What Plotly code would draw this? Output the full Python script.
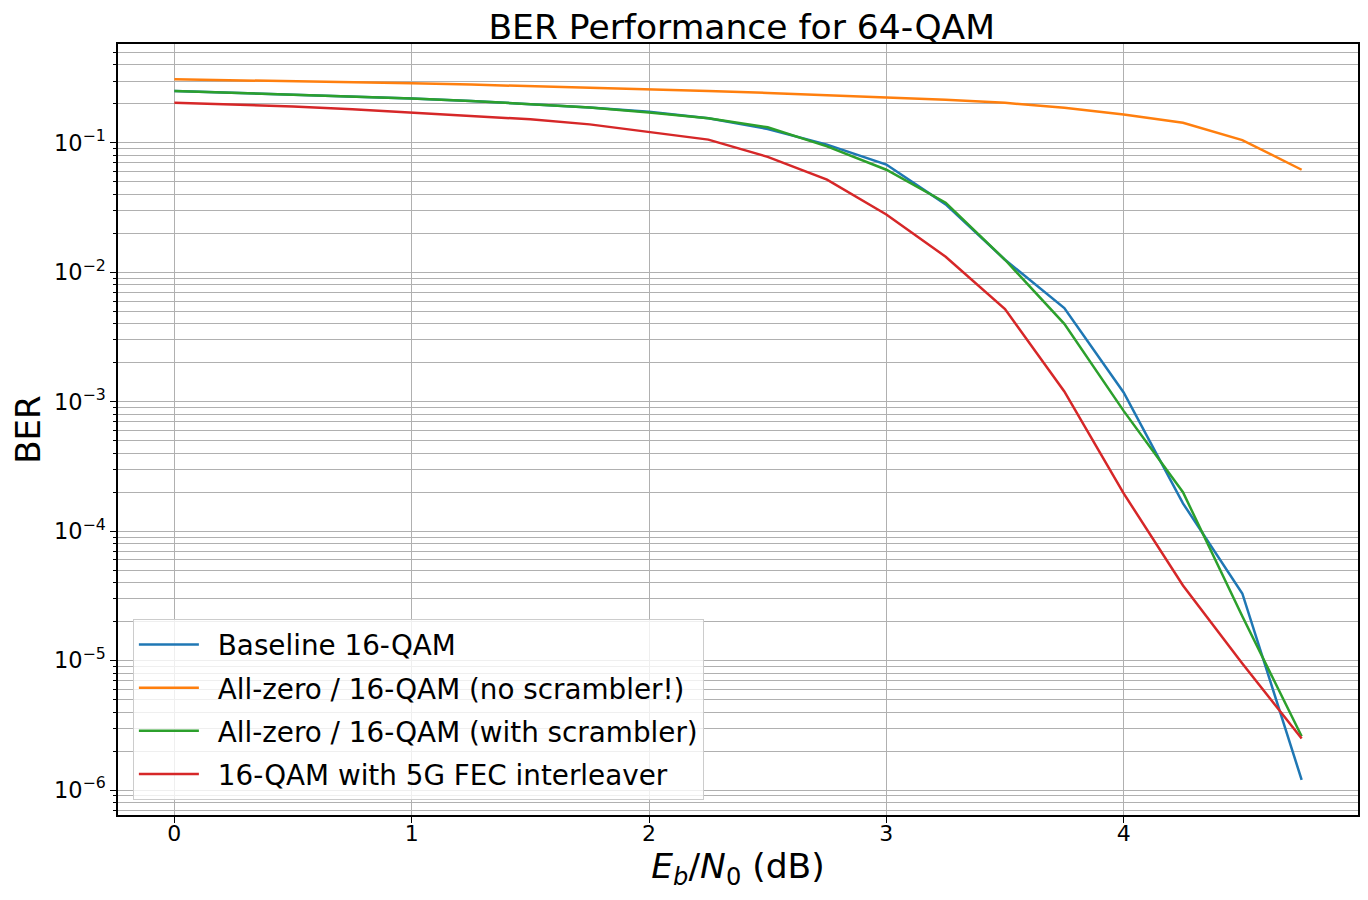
import plotly.graph_objects as go

ebn0 = [0, 0.25, 0.5, 0.75, 1.0, 1.25, 1.5, 1.75, 2.0, 2.25, 2.5, 2.75, 3.0, 3.25, 3.5, 3.75, 4.0, 4.25, 4.5, 4.75]

ber_baseline = [0.252, 0.244, 0.236, 0.228, 0.220, 0.211, 0.200, 0.188, 0.174, 0.155, 0.128, 0.097,
                0.068, 0.0335, 0.0125, 0.0053, 0.00118, 0.000164, 3.3e-5, 1.2e-6]
ber_noscr = [0.310, 0.305, 0.300, 0.295, 0.289, 0.282, 0.275, 0.268, 0.260, 0.252, 0.243, 0.234,
             0.225, 0.215, 0.204, 0.187, 0.166, 0.143, 0.105, 0.062]
ber_scr = [0.252, 0.244, 0.236, 0.228, 0.220, 0.211, 0.200, 0.188, 0.172, 0.155, 0.132, 0.094,
           0.062, 0.0345, 0.0125, 0.0040, 0.00085, 0.0002, 2.2e-5, 2.6e-6]
ber_fec = [0.204, 0.198, 0.191, 0.182, 0.172, 0.162, 0.152, 0.139, 0.122, 0.106, 0.078, 0.052,
           0.028, 0.0132, 0.0052, 0.0012, 0.000196, 3.8e-5, 9.5e-6, 2.5e-6]

names = ["Baseline 16-QAM", "All-zero / 16-QAM (no scrambler!)",
         "All-zero / 16-QAM (with scrambler)", "16-QAM with 5G FEC interleaver"]
colors = ["#1f77b4", "#ff7f0e", "#2ca02c", "#d62728"]
series = [ber_baseline, ber_noscr, ber_scr, ber_fec]

fig = go.Figure()
for n, c, s in zip(names, colors, series):
    fig.add_trace(go.Scatter(x=ebn0, y=s, mode="lines", name="\u2002" + n, legendgroup=n,
                             line=dict(color=c, width=2.5)))

font_family = "DejaVu Sans"
grid_col = "#b0b0b0"

# page body has an 8px margin, so the figure is sized/positioned to compensate
fig.update_layout(
    width=1360, height=892,
    margin=dict(l=110, r=10, t=36, b=85),
    paper_bgcolor="white", plot_bgcolor="white",
    font=dict(family=font_family, color="black"),
    title=dict(text="BER Performance for 64-QAM", x=0.5395, xanchor="center",
               y=0.979, yanchor="middle", font=dict(size=34.5, family=font_family)),
    showlegend=True,
    legend=dict(x=0.012, y=0.0195, xanchor="left", yanchor="bottom",
                bgcolor="rgba(255,255,255,0.8)", bordercolor="#cccccc", borderwidth=1,
                font=dict(size=27.8, family=font_family), itemwidth=60,
                tracegroupgap=4),
)

fig.update_xaxes(
    range=[-0.2375, 4.9875], tickvals=[0, 1, 2, 3, 4], automargin=False,
    showgrid=True, gridcolor=grid_col, gridwidth=1,
    showline=True, linecolor="black", linewidth=1.5, mirror=True,
    ticks="outside", ticklen=6, tickcolor="black", ticklabelstandoff=-8,
    tickfont=dict(size=22, family=font_family), zeroline=False,
    title=dict(text="<i>E</i><sub><i>b</i></sub>/<i>N</i><sub>0</sub> (dB)",
               font=dict(size=34.5, family=font_family), standoff=5),
)

fig.update_yaxes(
    type="log", range=[-6.193, -0.236], automargin=False,
    tickvals=[1e-6, 1e-5, 1e-4, 1e-3, 1e-2, 1e-1],
    ticktext=["10<sup>−6</sup>", "10<sup>−5</sup>", "10<sup>−4</sup>",
              "10<sup>−3</sup>", "10<sup>−2</sup>", "10<sup>−1</sup>"],
    showgrid=True, gridcolor=grid_col, gridwidth=1,
    minor=dict(showgrid=True, gridcolor=grid_col, gridwidth=1, ticks="outside",
               ticklen=3, tickcolor="black", dtick="D1"),
    showline=True, linecolor="black", linewidth=1.5, mirror=True,
    ticks="outside", ticklen=6, tickcolor="black",
    tickfont=dict(size=22.5, family=font_family), zeroline=False,
    title=dict(text="BER", font=dict(size=34, family=font_family), standoff=5),
)

fig.write_html("out.html")
